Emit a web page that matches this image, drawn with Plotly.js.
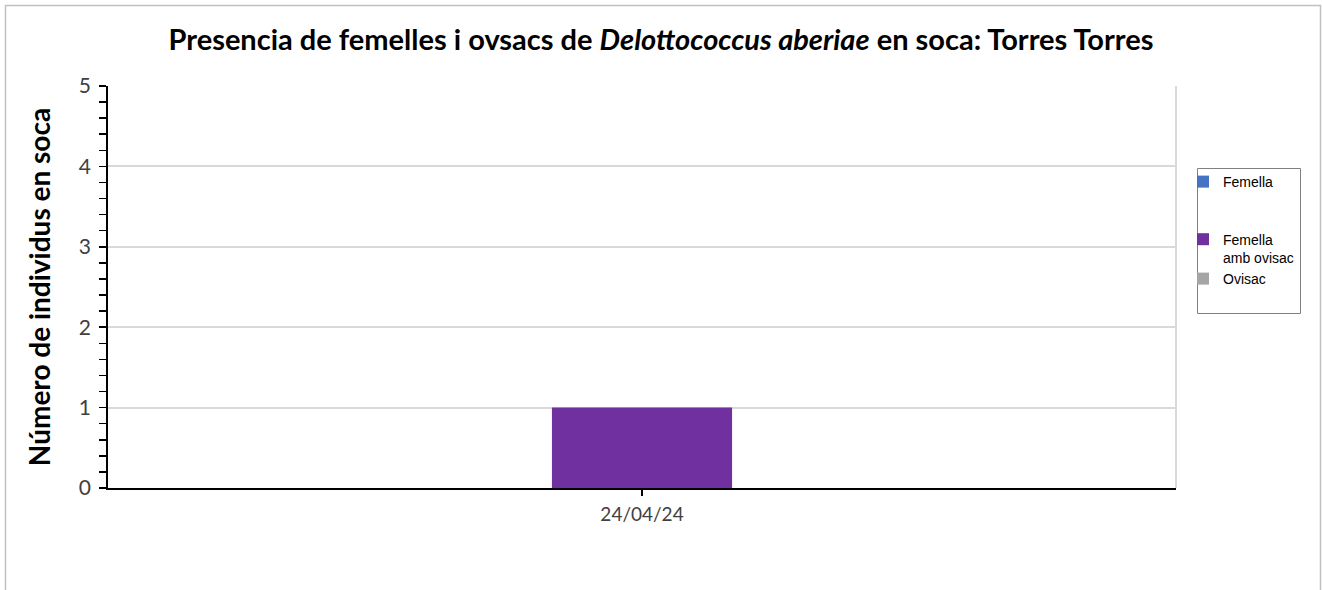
<!DOCTYPE html>
<html>
<head>
<meta charset="utf-8">
<script src="https://cdn.plot.ly/plotly-3.0.1.min.js"></script>
<style>
html,body{margin:0;padding:0;background:#fff;}
#chart{width:1322px;height:590px;}
</style>
</head>
<body>
<div id="chart"></div>
<script>
const categories = ["24/04/24"];
const seriesNames = ["Femella<br> <br> ", "Femella<br>amb ovisac", "Ovisac"];
const femella = [0];
const femellaOvisac = [1];
const ovisac = [0];
const seriesColors = ["#4472C4", "#7030A0", "#A5A5A5"];
const yTicks = [0, 1, 2, 3, 4, 5];

const W = 1322, H = 590;
const M = {l: 108, r: 146, t: 86, b: 102};
const pw = W - M.l - M.r, ph = H - M.t - M.b;
const px = v => (v - M.l) / pw;
const py = v => 1 - (v - M.t) / ph;
const FONT = 'Lato, sans-serif';

const vals = [femella, femellaOvisac, ovisac];
const traces = vals.map((v, i) => ({
  type: 'bar',
  x: categories,
  y: v,
  name: seriesNames[i],
  marker: {color: seriesColors[i]},
  hoverinfo: 'x+y+name'
}));

const layout = {
  width: W, height: H,
  margin: M,
  paper_bgcolor: '#fff',
  plot_bgcolor: '#fff',
  barmode: 'group',
  bargap: 0.494,
  bargroupgap: 0,
  title: {
    text: 'Presencia de femelles i ovsacs de <i>Delottococcus aberiae</i> en soca: Torres Torres',
    font: {family: FONT, size: 29, color: '#000', weight: 'bold'},
    x: 0.5, xref: 'container', xanchor: 'center', y: 1 - 40 / H, yanchor: 'middle'
  },
  xaxis: {
    type: 'category',
    showline: true, linecolor: '#000', linewidth: 2,
    ticks: 'outside', ticklen: 6, tickwidth: 1.5, tickcolor: '#000',
    showgrid: false,
    tickfont: {family: FONT, size: 19, color: '#404040'},
    ticklabelstandoff: 2,
    fixedrange: true
  },
  yaxis: {
    range: [0, 5],
    tickvals: yTicks,
    showline: true, linecolor: '#000', linewidth: 1.8,
    ticks: 'outside', ticklen: 7, tickwidth: 1.5, tickcolor: '#000',
    minor: {dtick: 0.2, ticks: 'outside', ticklen: 7, tickwidth: 1.5, tickcolor: '#000', showgrid: false},
    showgrid: true, gridcolor: '#d9d9d9', gridwidth: 2,
    zeroline: false,
    tickfont: {family: FONT, size: 21, color: '#404040'},
    ticklabelstandoff: 4,
    title: {
      text: 'Número de individus en soca',
      font: {family: FONT, size: 28, color: '#000', weight: 'bold'},
      standoff: 20
    },
    fixedrange: true
  },
  showlegend: true,
  legend: {
    x: px(1183), y: py(166), xanchor: 'left', yanchor: 'top',
    borderwidth: 0, bgcolor: 'rgba(0,0,0,0)',
    font: {family: 'Liberation Sans, Arial, sans-serif', size: 14, color: '#000'},
    valign: 'top',
    itemwidth: 30,
    traceorder: 'normal'
  },
  shapes: [
    {type: 'line', xref: 'paper', yref: 'paper', x0: 1, x1: 1, y0: 0, y1: 1,
     line: {color: '#d9d9d9', width: 2}, layer: 'below'},
    {type: 'line', xref: 'paper', yref: 'y', x0: 1, x1: 1, ysizemode: 'pixel', yanchor: 0, y0: 0, y1: -6,
     line: {color: '#000', width: 1.5}},
    {type: 'rect', xref: 'paper', yref: 'paper', x0: px(5.5), x1: px(1320.5), y0: py(5.5), y1: py(600),
     line: {color: '#c0c0c0', width: 1.5}, fillcolor: 'rgba(0,0,0,0)', layer: 'below'},
    {type: 'rect', xref: 'paper', yref: 'paper', x0: px(1197.5), x1: px(1300.5), y0: py(168.5), y1: py(313.5),
     line: {color: '#808080', width: 1}, fillcolor: 'rgba(0,0,0,0)'}
  ]
};

Plotly.newPlot('chart', traces, layout, {displayModeBar: false, staticPlot: true});
</script>
</body>
</html>
